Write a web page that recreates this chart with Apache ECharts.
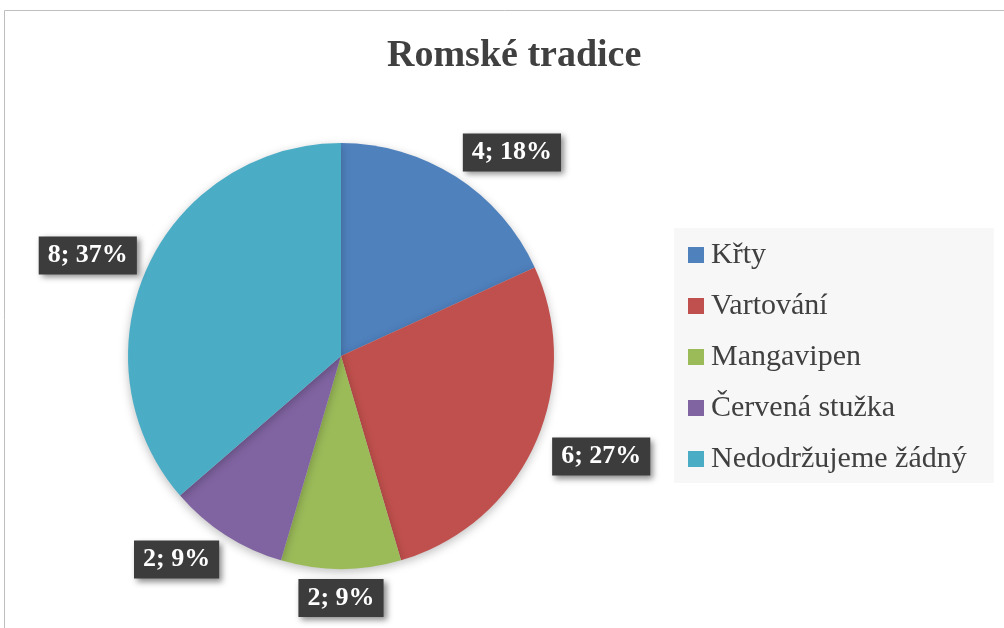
<!DOCTYPE html>
<html>
<head>
<meta charset="utf-8">
<script src="https://cdn.jsdelivr.net/npm/echarts@6/dist/echarts.min.js"></script>
<style>
  html, body { margin: 0; padding: 0; background: #fff; }
  #main { width: 1004px; height: 628px; }
</style>
</head>
<body>
<div id="main"></div>
<script>
// chart data
const categories = ['Křty', 'Vartování', 'Mangavipen', 'Červená stužka', 'Nedodržujeme žádný'];
const values = [4, 6, 2, 2, 8];
const colors = ['#4f81bd', '#c0504d', '#9bbb59', '#8064a2', '#4bacc6'];

let chart = echarts.init(document.getElementById('main'));

let data = categories.map((name, i) => ({
    name: name,
    value: values[i],
    itemStyle: { color: colors[i] }
}));

let option = {
    animation: false,
    graphic: [{
        type: 'rect',
        shape: { x: 4.5, y: 10.5, width: 1200, height: 800 },
        style: { fill: 'none', stroke: '#bfbfbf', lineWidth: 1 }
    }],
    title: {
        text: 'Romské tradice',
        left: 382,
        top: 32,
        textStyle: {
            fontFamily: 'Liberation Serif',
            fontWeight: 'bold',
            fontSize: 38,
            color: '#404040'
        }
    },
    legend: {
        orient: 'vertical',
        left: 674,
        top: 228,
        backgroundColor: '#f7f7f7',
        padding: [12, 27, 9, 14],
        itemWidth: 16,
        itemHeight: 16,
        itemGap: 21,
        icon: 'rect',
        textStyle: {
            fontFamily: 'Liberation Serif',
            fontSize: 30,
            color: '#404040',
            padding: [0, 0, 0, 2]
        },
        data: categories
    },
    series: [{
        type: 'pie',
        center: [341, 356],
        radius: 213,
        startAngle: 90,
        clockwise: true,
        percentPrecision: 0,
        itemStyle: {
            shadowColor: 'rgba(0,0,0,0.25)',
            shadowBlur: 10,
            shadowOffsetY: 3
        },
        label: {
            position: 'outside',
            formatter: '{c}; {d}%',
            fontFamily: 'Liberation Serif',
            fontWeight: 'bold',
            fontSize: 26,
            color: '#ffffff',
            backgroundColor: '#3c3c3c',
            padding: [6, 9, 6, 9],
            shadowColor: 'rgba(0,0,0,0.45)',
            shadowBlur: 6,
            shadowOffsetX: 3,
            shadowOffsetY: 3
        },
        labelLine: { show: false, length: 29, length2: 0 },
        labelLayout: function (p) {
            // nudge labels closer to the pie, like Excel's best fit
            if (p.dataIndex === 2) {
                return { dx: -p.labelRect.width / 2 - 5 };
            }
            if (p.dataIndex === 4) {
                return { dx: 21 };
            }
            return { dx: p.align === 'left' ? -14 : 14 };
        },
        emphasis: { disabled: true },
        data: data
    }]
};

chart.setOption(option);

window.onresize = () => {
    chart.resize();
};
</script>
</body>
</html>
